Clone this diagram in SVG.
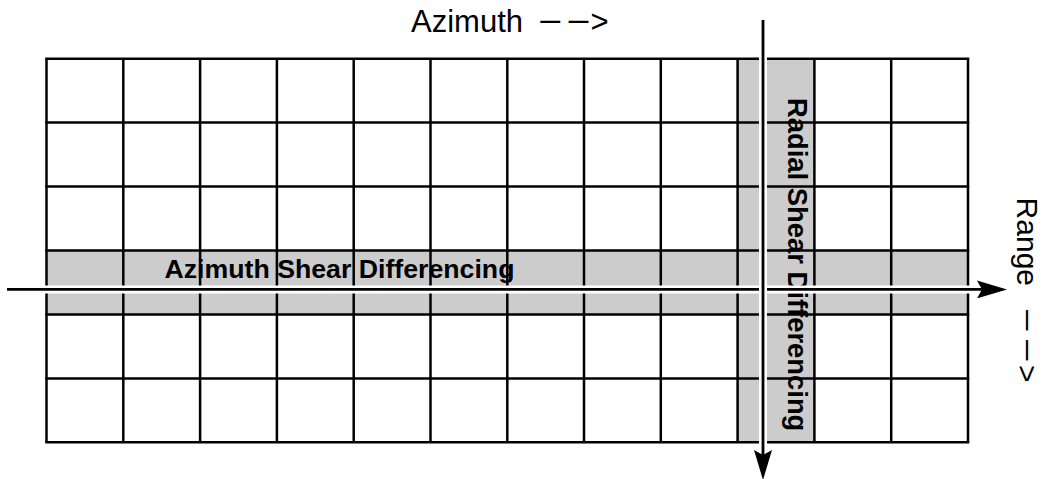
<svg xmlns="http://www.w3.org/2000/svg" width="1043" height="479" viewBox="0 0 1043 479">
  <style>
    .band { fill: #cccccc; stroke: none; }
    .grid line { stroke: #000; stroke-width: 2.5; }
    .bold { font-family: "Liberation Sans", Arial, sans-serif; font-weight: bold; font-size: 26.7px; fill: #000; }
    .axis { font-family: "Liberation Sans", Arial, sans-serif; font-size: 31px; fill: #000; }
    .halo { stroke: #fff; stroke-width: 8; fill: none; }
    .shaft { stroke: #000; stroke-width: 2.8; fill: none; }
  </style>
  <defs>
    <marker id="head" viewBox="0 0 30 18" refX="5" refY="9" markerWidth="30" markerHeight="18" markerUnits="userSpaceOnUse" orient="auto">
      <path d="M0,0 L30,9 L0,18 L5,9 Z" fill="#000"/>
    </marker>
  </defs>

  <g id="azimuth-shear-band">
    <rect class="band" x="46.5" y="250.5" width="921.5" height="63.9"/>
    <text class="bold" x="164.5" y="278">Azimuth Shear Differencing</text>
  </g>

  <g id="radial-shear-band">
    <rect class="band" x="737.6" y="58.7" width="76.8" height="383.6"/>
    <text class="bold" transform="translate(788,0) rotate(90)" x="98" y="0" style="font-size:27.4px">Radial Shear Differencing</text>
  </g>

  <g id="grid" class="grid">
    <line x1="46.5" y1="58.7" x2="46.5" y2="442.3"/>
    <line x1="123.3" y1="58.7" x2="123.3" y2="442.3"/>
    <line x1="200.1" y1="58.7" x2="200.1" y2="442.3"/>
    <line x1="276.9" y1="58.7" x2="276.9" y2="442.3"/>
    <line x1="353.7" y1="58.7" x2="353.7" y2="442.3"/>
    <line x1="430.5" y1="58.7" x2="430.5" y2="442.3"/>
    <line x1="507.3" y1="58.7" x2="507.3" y2="442.3"/>
    <line x1="584.0" y1="58.7" x2="584.0" y2="442.3"/>
    <line x1="660.8" y1="58.7" x2="660.8" y2="442.3"/>
    <line x1="737.6" y1="58.7" x2="737.6" y2="442.3"/>
    <line x1="814.4" y1="58.7" x2="814.4" y2="442.3"/>
    <line x1="891.2" y1="58.7" x2="891.2" y2="442.3"/>
    <line x1="968" y1="58.7" x2="968" y2="442.3"/>
    <line x1="45.25" y1="58.7" x2="969.25" y2="58.7"/>
    <line x1="45.25" y1="122.6" x2="969.25" y2="122.6"/>
    <line x1="45.25" y1="186.6" x2="969.25" y2="186.6"/>
    <line x1="45.25" y1="250.5" x2="969.25" y2="250.5"/>
    <line x1="45.25" y1="314.4" x2="969.25" y2="314.4"/>
    <line x1="45.25" y1="378.4" x2="969.25" y2="378.4"/>
    <line x1="45.25" y1="442.3" x2="969.25" y2="442.3"/>
  </g>

  <g id="connectors">
    <g id="range-arrow">
      <line class="halo" x1="7" y1="289.4" x2="977" y2="289.4"/>
      <line class="shaft" x1="7" y1="289.4" x2="982" y2="289.4" marker-end="url(#head)"/>
    </g>
    <g id="azimuth-arrow">
      <line class="halo" x1="763" y1="20" x2="763" y2="450"/>
      <line class="shaft" x1="763" y1="20" x2="763" y2="455" marker-end="url(#head)"/>
    </g>
  </g>

  <g id="azimuth-label">
    <text class="axis" y="32"><tspan x="411">Azimuth</tspan><tspan x="538" textLength="23.9" lengthAdjust="spacingAndGlyphs">−</tspan><tspan x="566.3" textLength="23.9" lengthAdjust="spacingAndGlyphs">−</tspan><tspan x="590.5">&gt;</tspan></text>
  </g>

  <g id="range-label">
    <text class="axis" transform="translate(1017,0) rotate(90)" y="0" style="font-size:30px"><tspan x="197.6">Range</tspan><tspan x="308" textLength="24.5" lengthAdjust="spacingAndGlyphs">−</tspan><tspan x="338" textLength="24.5" lengthAdjust="spacingAndGlyphs">−</tspan><tspan x="365">&gt;</tspan></text>
  </g>
</svg>
